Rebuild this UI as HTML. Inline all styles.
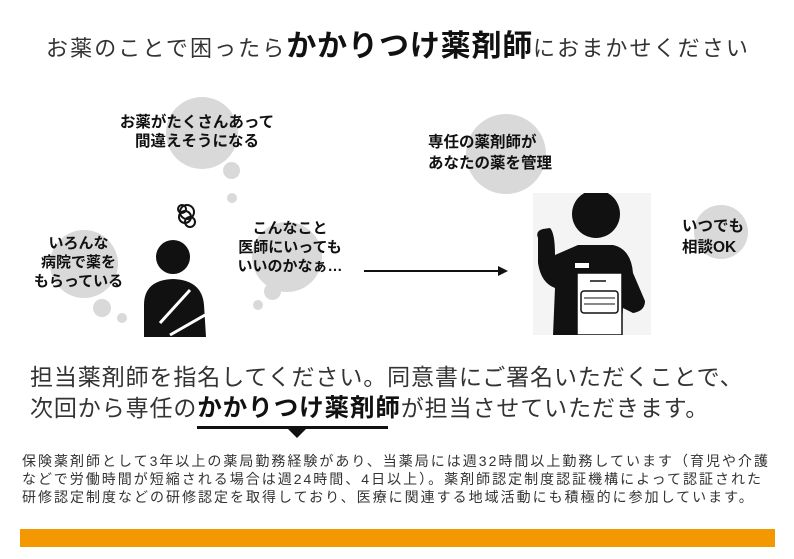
<!DOCTYPE html>
<html><head><meta charset="utf-8"><style>
body{margin:0;width:794px;height:559px;background:#fff;position:relative;overflow:hidden;font-family:"Liberation Sans","Noto Sans CJK JP",sans-serif;color:#222}
.a{position:absolute;white-space:nowrap}
.c{position:absolute;border-radius:50%;background:#d9d9d9}
.b{font-weight:bold;color:#111}
.bt{position:absolute;font-weight:bold;font-size:14.5px;line-height:18px;text-align:center;color:#111;white-space:nowrap}
</style></head><body>
<div class="a" style="left:46px;top:30px;font-size:22px;line-height:34px;letter-spacing:2.1px;color:#333">お薬のことで困ったら<span class="b" style="font-size:30px;letter-spacing:0.8px">かかりつけ薬剤師</span>におまかせください</div>

<!-- bubbles left -->
<div class="c" style="left:166px;top:97px;width:72px;height:72px"></div>
<div class="c" style="left:223px;top:162px;width:17px;height:17px"></div>
<div class="c" style="left:227px;top:193px;width:10px;height:10px"></div>
<div class="bt" style="left:102px;top:113px;width:190px;font-size:15.5px;line-height:19px">お薬がたくさんあって<br>間違えそうになる</div>

<div class="c" style="left:50px;top:230px;width:68px;height:68px"></div>
<div class="c" style="left:93px;top:299px;width:18px;height:18px"></div>
<div class="c" style="left:117px;top:313px;width:10px;height:10px"></div>
<div class="bt" style="left:16px;top:234px;width:125px;font-size:15px;line-height:19px">いろんな<br>病院で薬を<br>もらっている</div>

<div class="c" style="left:252px;top:222px;width:70px;height:70px"></div>
<div class="c" style="left:264px;top:283px;width:17px;height:17px"></div>
<div class="c" style="left:253px;top:300px;width:10px;height:10px"></div>
<div class="bt" style="left:230px;top:219px;width:120px;font-size:15px;line-height:19px">こんなこと<br>医師にいっても<br>いいのかなぁ…</div>

<!-- person 1 -->
<svg class="a" style="left:130px;top:195px" width="100" height="150" viewBox="0 0 100 150">
<g fill="none" stroke="#111" stroke-width="2"><circle cx="57" cy="17" r="7"/><circle cx="55" cy="22" r="6"/><circle cx="60" cy="27" r="5"/><circle cx="52" cy="14" r="4"/></g>
<circle cx="43" cy="62" r="17" fill="#111"/>
<path d="M14 142 L14 110 Q14 85 43 84 Q72 85 74 110 L76 142 Z" fill="#111"/>
<path d="M30 128 L60 95 M40 140 L75 120" stroke="#fff" stroke-width="3" fill="none"/>
</svg>

<!-- arrow -->
<div class="a" style="left:364px;top:270px;width:136px;height:2px;background:#111"></div>
<div class="a" style="left:498px;top:266px;width:0;height:0;border-left:10px solid #111;border-top:5px solid transparent;border-bottom:5px solid transparent"></div>

<!-- right -->
<div class="c" style="left:466px;top:114px;width:80px;height:80px"></div>
<div class="bt" style="left:428px;top:132px;font-size:15.5px;line-height:21px;text-align:left">専任の薬剤師が<br>あなたの薬を管理</div>
<div class="c" style="left:694px;top:205px;width:54px;height:54px"></div>
<div class="bt" style="left:682px;top:216px;font-size:15.5px;line-height:21px;text-align:left">いつでも<br>相談OK</div>

<svg class="a" style="left:533px;top:193px" width="118" height="142" viewBox="0 0 118 142">
<rect width="118" height="142" fill="#f4f4f4"/>
<circle cx="63" cy="21" r="24" fill="#111"/>
<path d="M5 45 Q2 38 10 36 L17 35 Q22 40 22 62 L45 52 L80 52 Q98 56 100 80 L112 108 Q112 118 100 120 L90 115 L88 142 L20 142 L22 95 Q8 90 5 70 Z" fill="#111"/>
<rect x="44" y="80" width="45" height="62" fill="#fff" stroke="#111" stroke-width="1.5"/>
<rect x="48" y="98" width="37" height="22" rx="3" fill="#fff" stroke="#111" stroke-width="1.5"/>
<line x1="51" y1="105" x2="82" y2="105" stroke="#111"/><line x1="51" y1="111" x2="82" y2="111" stroke="#111"/>
<line x1="57" y1="88" x2="73" y2="88" stroke="#111" stroke-width="1.5"/>
<rect x="42" y="70" width="14" height="5" fill="#fff"/>
</svg>

<div class="a" style="left:30px;top:362px;font-size:23px;line-height:31px;color:#333;letter-spacing:0.9px">担当薬剤師を指名してください。同意書にご署名いただくことで、<br>次回から専任の<span class="b" style="font-size:24.5px">かかりつけ薬剤師</span>が担当させていただきます。</div>
<div class="a" style="left:197px;top:426px;width:191px;height:3px;background:#111"></div>
<div class="a" style="left:287px;top:428px;width:0;height:0;border-top:10px solid #111;border-left:10px solid transparent;border-right:10px solid transparent"></div>

<div class="a" style="left:22px;top:452px;font-size:14px;line-height:18px;letter-spacing:2px;color:#333">保険薬剤師として3年以上の薬局勤務経験があり、当薬局には週32時間以上勤務しています（育児や介護<br>などで労働時間が短縮される場合は週24時間、4日以上）。薬剤師認定制度認証機構によって認証された<br>研修認定制度などの研修認定を取得しており、医療に関連する地域活動にも積極的に参加しています。</div>

<div class="a" style="left:20px;top:529px;width:755px;height:18px;background:#f39800"></div>
</body></html>
